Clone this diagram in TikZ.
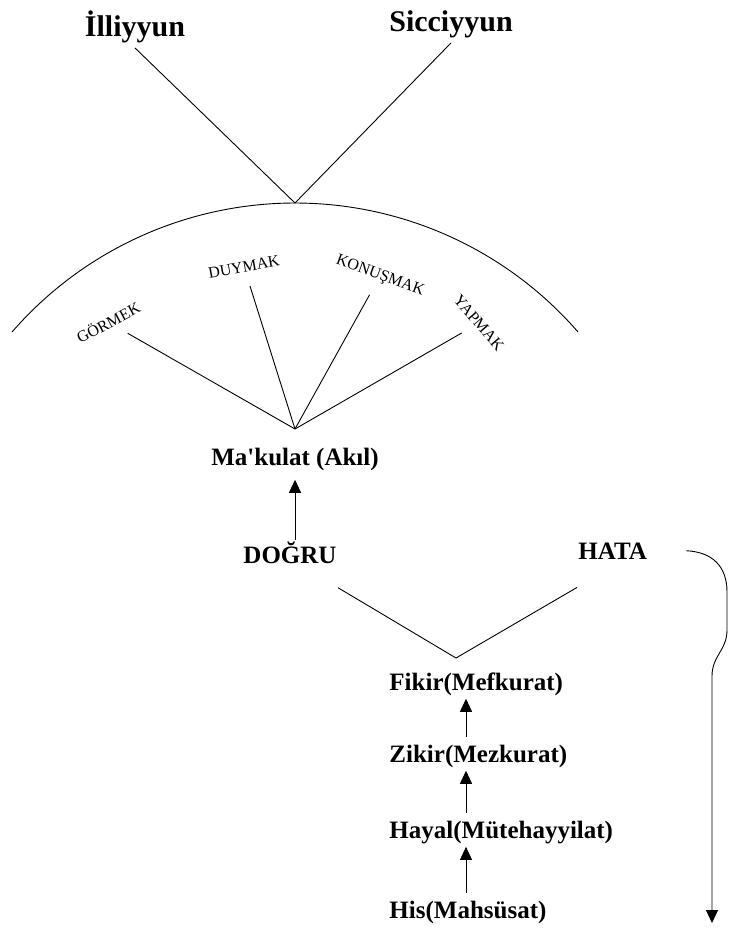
\documentclass[tikz,border=0pt]{standalone}
\usepackage{fontspec}
\setmainfont{Liberation Serif}
\usetikzlibrary{arrows.meta}

\begin{document}
\begin{tikzpicture}[x=1pt, y=-1pt, line width=0.9pt,
        baslik/.style={font=\fontsize{30}{34}\selectfont\bfseries, anchor=base, inner sep=4pt},
        kat/.style={font=\fontsize{25}{29}\selectfont\bfseries, inner sep=1pt},
        duyu/.style={font=\fontsize{16}{18}\selectfont, inner sep=2pt},
        okucu/.style={-{Triangle[length=13pt,width=12pt]}}]

        \useasboundingbox (0,0) rectangle (729,928);

        % Ust kisim
        \node[baslik] (illiyyun) at (135,37) {İlliyyun};
        \node[baslik] (sicciyyun) at (451,32) {Sicciyyun};
        \coordinate (tepe) at (295,203);
        \draw (illiyyun.south) -- (tepe) -- (sicciyyun.south);

        % Yay
        \draw (12,332) arc[start angle=221, end angle=319, radius=375];

        % Duyular
        \node[duyu, rotate=28] (gormek) at (108,322) {GÖRMEK};
        \node[duyu, rotate=10] (duymak) at (244,267) {DUYMAK};
        \node[duyu, rotate=-20] (konusmak) at (380,276) {KONUŞMAK};
        \node[duyu, rotate=-49] (yapmak) at (479,323) {YAPMAK};

        \coordinate (fan) at (295,429);
        \foreach \ad in {gormek,duymak,konusmak,yapmak}
            \draw[shorten >=12pt] (fan) -- (\ad);

        % Akil
        \node[kat, anchor=base] (makulat) at (295,465) {Ma\textquotesingle kulat (Akıl)};
        \node[kat, anchor=base] (dogru) at (290,563) {DOĞRU};
        \node[kat, anchor=base west] (hata) at (577,559) {HATA};
        \draw[okucu, shorten >=8pt] (dogru.north -| makulat.south) -- (makulat.south);

        % Dogru ve hata
        \coordinate (vdip) at (456,658);
        \draw ([yshift=-23pt]dogru.south east) -- (vdip) -- ([yshift=-27pt]hata.south west);

        \coordinate (hatason) at (712,923);
        \draw[okucu] ([xshift=38pt]hata.east) .. controls (712,552) and (727,566) .. (727,592)
            -- (727,630) .. controls (727,650) and (712,656) .. (712,676) -- (hatason);

        % Alt zincir
        \node[kat, anchor=base west] (fikir) at (388,690) {Fikir(Mefkurat)};
        \node[kat, anchor=base west] (zikir) at (388,762) {Zikir(Mezkurat)};
        \node[kat, anchor=base west] (hayal) at (388,838) {Hayal(Mütehayyilat)};
        \node[kat, anchor=base west] (his) at (388,918) {His(Mahsüsat)};
        \coordinate (zincir) at (466,0);
        \foreach \alt/\ust in {zikir/fikir, hayal/zikir, his/hayal}
            \draw[okucu, shorten <=6pt, shorten >=2pt] (\alt.north -| zincir) -- (\ust.south -| zincir);

\end{tikzpicture}
\end{document}
